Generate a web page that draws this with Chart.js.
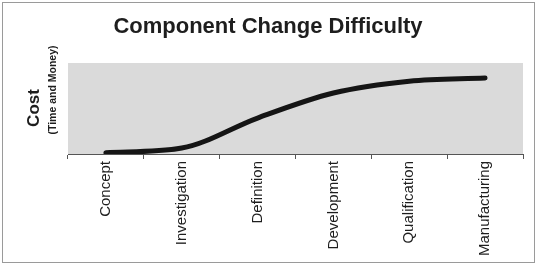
<!DOCTYPE html>
<html>
<head>
<meta charset="utf-8">
<script src="https://cdn.jsdelivr.net/npm/chart.js@4/dist/chart.umd.min.js"></script>
<style>
  html, body { margin: 0; padding: 0; background: #fff; }
  #wrap { position: relative; width: 537px; height: 265px; }
  #frame { position: absolute; left: 2px; top: 2px; width: 531px; height: 259px; border: 1px solid #9a9a9a; pointer-events: none; }
</style>
</head>
<body>
<div id="wrap">
  <canvas id="chart" width="537" height="265"></canvas>
  <div id="frame"></div>
</div>
<script>
// ---- data ---------------------------------------------------------------
const PHASES = ["Concept", "Investigation", "Definition", "Development", "Qualification", "Manufacturing"];
const COST = [1.5, 6.5, 39.5, 67, 80, 83.5];
const Y_RANGE = [0, 100];

const TITLE = "Component Change Difficulty";
const Y_TITLE = "Cost";
const Y_SUBTITLE = "(Time and Money)";

const FONT = "'Liberation Sans', Arial, sans-serif";

// plot background + title + y-axis caption
const decor = {
  id: "decor",
  beforeDatasetsDraw(chart) {
    const { ctx, chartArea: a } = chart;
    ctx.save();
    ctx.fillStyle = "#dadada";
    ctx.fillRect(a.left, a.top, a.right - a.left, a.bottom - a.top);
    ctx.restore();
  },
  afterDraw(chart) {
    const { ctx } = chart;
    ctx.save();
    ctx.fillStyle = "#1e1e1e";
    ctx.textAlign = "center";
    ctx.textBaseline = "alphabetic";
    ctx.font = "bold 22px " + FONT;
    ctx.fillText(TITLE, 268, 33);

    // rotated captions: +x goes up the page, +y goes right
    ctx.translate(39, 108);
    ctx.rotate(-Math.PI / 2);
    ctx.font = "bold 17px " + FONT;
    ctx.fillText(Y_TITLE, 0, 0);
    ctx.font = "bold 10.5px " + FONT;
    ctx.fillText(Y_SUBTITLE, 18, 17);
    ctx.restore();
  },
};

new Chart(document.getElementById("chart"), {
  type: "line",
  data: {
    labels: PHASES,
    datasets: [{
      data: COST,
      borderColor: "#151515",
      borderWidth: 5,
      borderCapStyle: "round",
      cubicInterpolationMode: "monotone",
      pointRadius: 0,
      fill: false,
    }],
  },
  options: {
    responsive: false,
    animation: false,
    layout: { padding: { left: 68, top: 63, right: 14, bottom: 0 } },
    plugins: { legend: { display: false }, tooltip: { enabled: false } },
    scales: {
      x: {
        offset: true,
        grid: { offset: true, drawOnChartArea: false, drawTicks: true, tickLength: 5, color: "#555" },
        border: { display: true, color: "#555" },
        ticks: { maxRotation: 90, minRotation: 90, padding: 2, color: "#1e1e1e", font: { family: FONT, size: 15 } },
        afterFit(scale) { scale.height = 111; },
      },
      y: { display: false, min: Y_RANGE[0], max: Y_RANGE[1] },
    },
  },
  plugins: [decor],
});
</script>
</body>
</html>
